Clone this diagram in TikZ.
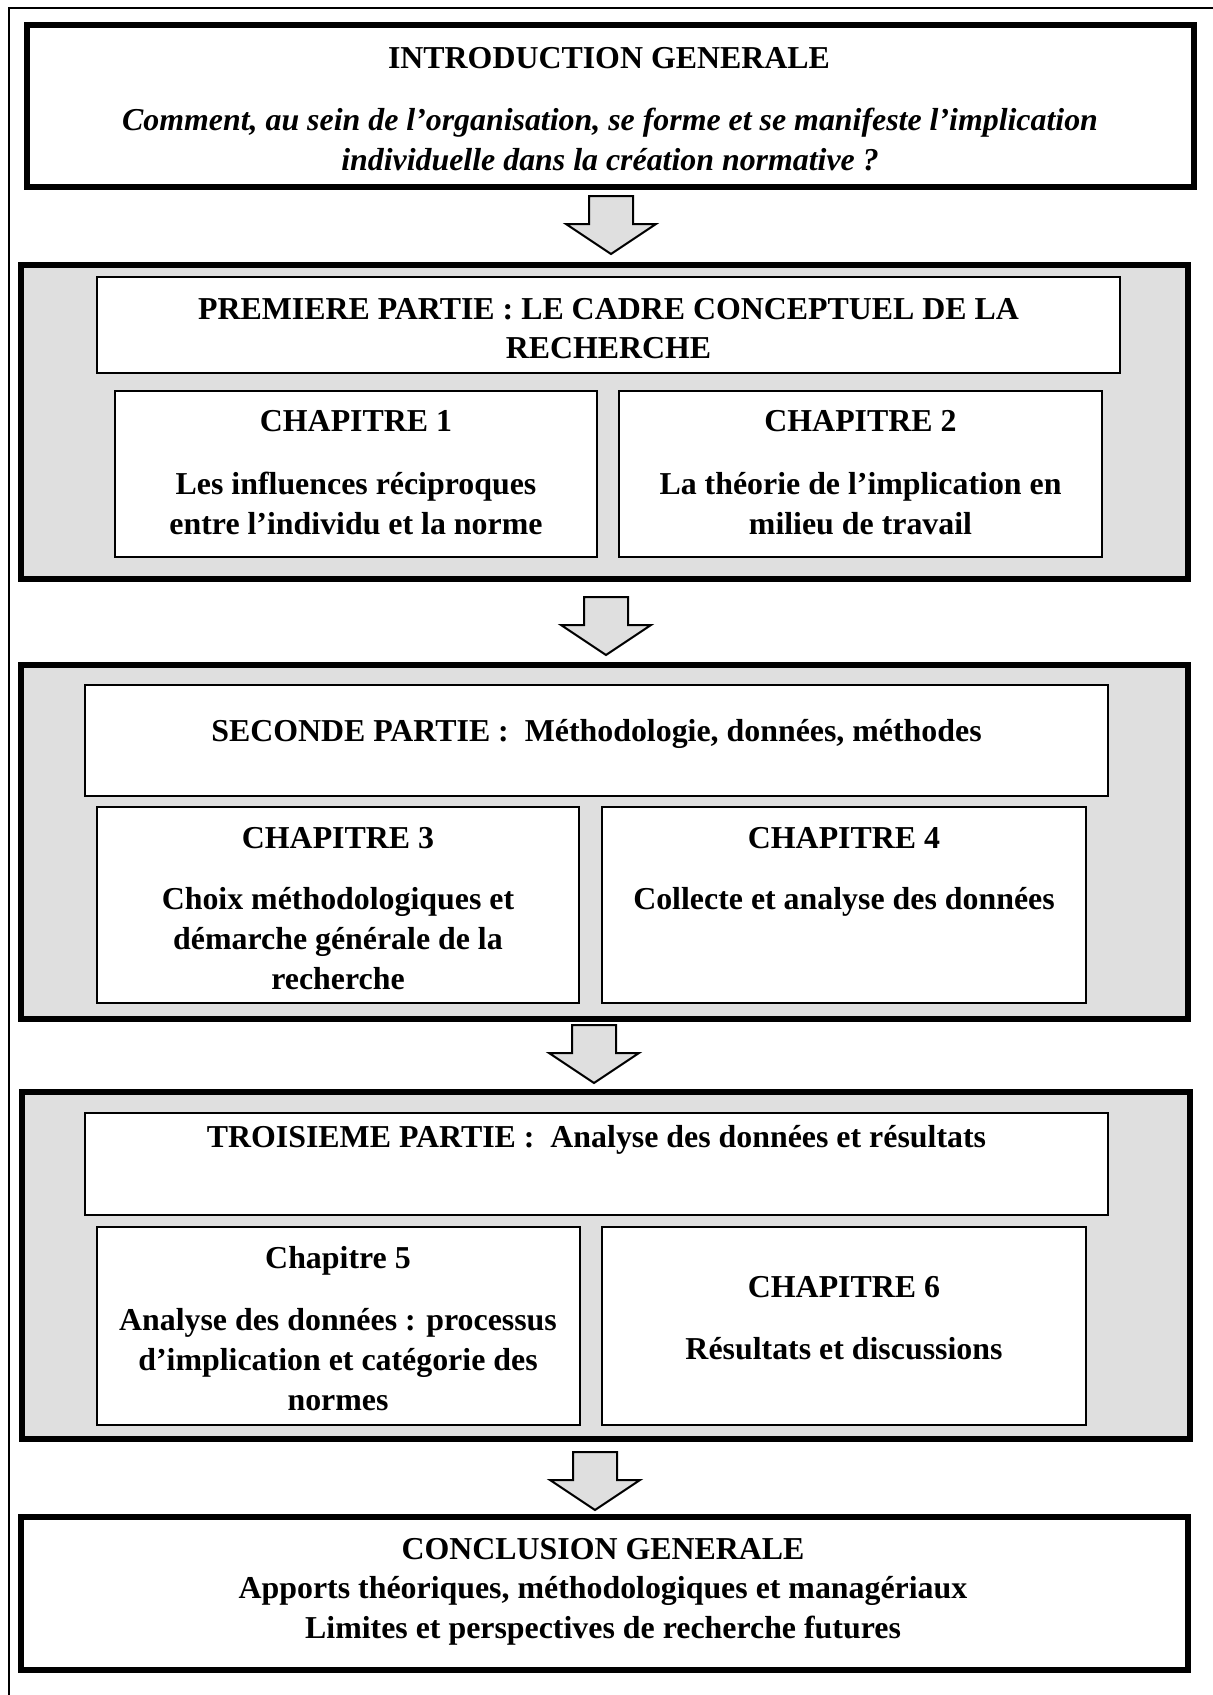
\documentclass[tikz,border=0pt]{standalone}
\usepackage{fontspec}
\setmainfont{Liberation Serif}
\usetikzlibrary{fit}
\definecolor{panelgray}{RGB}{223,223,223}
\begin{document}
\begin{tikzpicture}[x=0.4pt,y=-0.4pt,
  frame/.style={draw=black,line width=0.8pt},
  introbox/.style={draw=black,line width=2.4pt,fill=white,inner sep=0pt},
  panel/.style={draw=black,line width=2.2pt,fill=panelgray,inner sep=0pt},
  inbox/.style={draw=black,line width=1pt,fill=white,inner sep=0pt},
  blockarrow/.style={draw=black,line width=0.8pt,fill=panelgray,line join=miter},
  txt/.style={font=\fontsize{12.75}{16}\selectfont\bfseries,inner sep=0pt,anchor=base},
  itxt/.style={font=\fontsize{12.75}{16}\selectfont\bfseries\itshape,inner sep=0pt,anchor=base},
  downarrow/.pic={\draw[blockarrow] (-22,0) -- (22,0) -- (22,28) -- (45,28) -- (0,58) -- (-45,28) -- (-22,28) -- cycle;}
]
\useasboundingbox (0,0) rectangle (1213,1695);
% outer frame (right and bottom sides lie outside the page)
\coordinate (fbl) at (9,1700);
\coordinate (ftl) at (9,7.5);
\coordinate (ftr) at (1220,7.5);
\draw[frame] (fbl) -- (ftl) -- (ftr);

% introduction
\node[introbox,fit={(27,25) (1194,187)}] (intro) {};
\node[txt] (introT) at (609,68) {INTRODUCTION GENERALE};
\node[itxt] (introQ1) at (610,130) {Comment, au sein de l’organisation, se forme et se manifeste l’implication};
\node[itxt] (introQ2) at (610,170) {individuelle dans la création normative ?};

\pic at (611,196) {downarrow};

% premiere partie
\node[panel,fit={(21,265) (1188,579)}] (p1) {};
\node[inbox,fit={(97,277) (1120,373)}] (p1t) {};
\node[txt] (p1T1) at (608.5,319) {PREMIERE PARTIE : LE CADRE CONCEPTUEL DE LA};
\node[txt] (p1T2) at (608.5,358) {RECHERCHE};
\node[inbox,fit={(115,391) (597,557)}] (ch1) {};
\node[txt] at (356,431.5) {CHAPITRE 1};
\node[txt] at (356,494) {Les influences réciproques};
\node[txt] at (356,534) {entre l’individu et la norme};
\node[inbox,fit={(619,391) (1102,557)}] (ch2) {};
\node[txt] at (860.5,431.5) {CHAPITRE 2};
\node[txt] at (860.5,494) {La théorie de l’implication en};
\node[txt] at (860.5,534) {milieu de travail};

\pic at (606,597) {downarrow};

% seconde partie
\node[panel,fit={(21,665) (1188,1019)}] (p2) {};
\node[inbox,fit={(85,685) (1108,796)}] (p2t) {};
\node[txt] (p2T) at (596.5,741) {SECONDE PARTIE :\hspace{0.5em}Méthodologie, données, méthodes};
\node[inbox,fit={(97,807) (579,1003)}] (ch3) {};
\node[txt] at (338,848) {CHAPITRE 3};
\node[txt] at (338,909) {Choix méthodologiques et};
\node[txt] at (338,949) {démarche générale de la};
\node[txt] at (338,989) {recherche};
\node[inbox,fit={(602,807) (1086,1003)}] (ch4) {};
\node[txt] at (844,848) {CHAPITRE 4};
\node[txt] at (844,909) {Collecte et analyse des données};

\pic at (594,1025) {downarrow};

% troisieme partie
\node[panel,fit={(22,1092) (1190,1439)}] (p3) {};
\node[inbox,fit={(85,1113) (1108,1215)}] (p3t) {};
\node[txt] (p3T) at (596.5,1147) {TROISIEME PARTIE :\hspace{0.5em}Analyse des données et résultats};
\node[inbox,fit={(97,1227) (580,1425)}] (ch5) {};
\node[txt] at (338,1268) {Chapitre 5};
\node[txt] at (338,1330) {Analyse des données : processus};
\node[txt] at (338,1370) {d’implication et catégorie des};
\node[txt] at (338,1410) {normes};
\node[inbox,fit={(602,1227) (1086,1425)}] (ch6) {};
\node[txt] at (844,1297.5) {CHAPITRE 6};
\node[txt] at (844,1359) {Résultats et discussions};

\pic at (595,1452) {downarrow};

% conclusion
\node[introbox,fit={(21,1517) (1188,1670)}] (concl) {};
\node[txt] at (603,1559) {CONCLUSION GENERALE};
\node[txt] at (603,1598) {Apports théoriques, méthodologiques et managériaux};
\node[txt] at (603,1638) {Limites et perspectives de recherche futures};
\end{tikzpicture}
\end{document}
